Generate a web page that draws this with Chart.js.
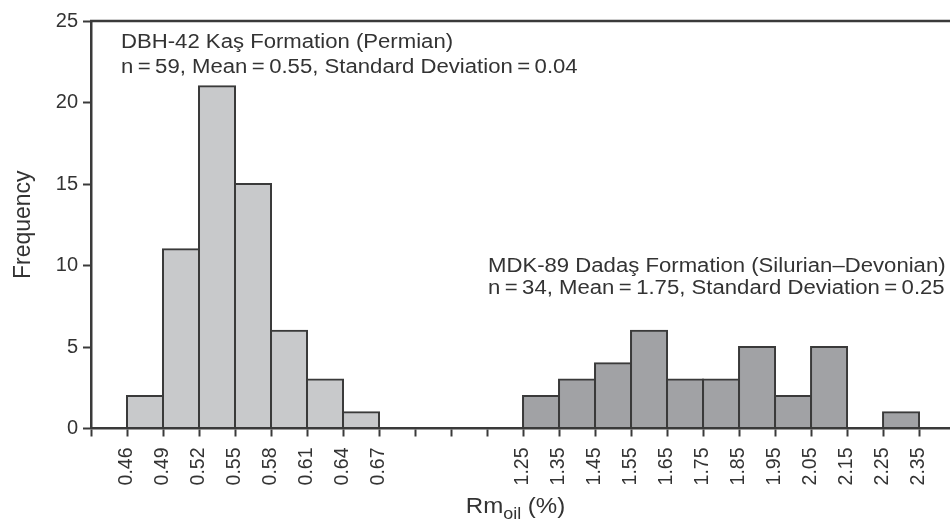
<!DOCTYPE html>
<html>
<head>
<meta charset="utf-8">
<script src="https://cdn.jsdelivr.net/npm/chart.js@4.4.1/dist/chart.umd.min.js"></script>
<style>
  html, body { margin: 0; padding: 0; background: #fff; }
  canvas { display: block; }
</style>
</head>
<body>
<canvas id="rm-histogram" width="950" height="520"></canvas>
<script>
// x axis: one slot per bin, blanks where the axis is broken
const tickLabels = ['', '0.46', '0.49', '0.52', '0.55', '0.58', '0.61', '0.64', '0.67', '', '', '',
  '1.25', '1.35', '1.45', '1.55', '1.65', '1.75', '1.85', '1.95', '2.05', '2.15', '2.25', '2.35'];

// DBH-42 Kaş Formation, bins start at these edges
const kasBins = ['0.46', '0.49', '0.52', '0.55', '0.58', '0.61', '0.64'];
const kasCounts = [2, 11, 21, 15, 6, 3, 1];

// MDK-89 Dadaş Formation
const dadasBins = ['1.25', '1.35', '1.45', '1.55', '1.65', '1.75', '1.85', '1.95', '2.05', '2.15', '2.25'];
const dadasCounts = [2, 3, 4, 6, 3, 3, 5, 2, 5, 0, 1];

const yTicks = [0, 5, 10, 15, 20, 25];

const kasNote = ['DBH-42 Kaş Formation (Permian)', 'n\u2009=\u200959, Mean\u2009=\u20090.55, Standard Deviation\u2009=\u20090.04'];
const dadasNote = ['MDK-89 Dadaş Formation (Silurian–Devonian)', 'n\u2009=\u200934, Mean\u2009=\u20091.75, Standard Deviation\u2009=\u20090.25'];

const INK = '#3a3a3a';
const TEXT = '#333333';
const FONT = "'Liberation Sans', Arial, sans-serif";

function toPoints(bins, counts) {
  // bar sits in the middle of its slot, between two tick marks
  return bins.map((b, i) => ({ x: tickLabels.indexOf(b) + 0.5, y: counts[i] }));
}

function measure(ctx, text, size) {
  ctx.save();
  ctx.font = `${size}px ${FONT}`;
  const w = ctx.measureText(text).width;
  ctx.restore();
  return w;
}

// the source figure's lettering is a little wider than Liberation Sans
function drawWide(ctx, text, x, y, size, sx) {
  ctx.save();
  ctx.translate(x, y);
  ctx.scale(sx, 1);
  ctx.font = `${size}px ${FONT}`;
  ctx.fillText(text, 0, 0);
  ctx.restore();
}

const annotations = {
  id: 'annotations',
  afterDraw(chart) {
    const { ctx, chartArea } = chart;
    ctx.save();

    // top frame line
    ctx.strokeStyle = INK;
    ctx.lineWidth = 2.5;
    ctx.beginPath();
    ctx.moveTo(chartArea.left - 1, chartArea.top);
    ctx.lineTo(chartArea.right, chartArea.top);
    ctx.stroke();

    ctx.fillStyle = TEXT;
    ctx.textBaseline = 'alphabetic';
    ctx.textAlign = 'left';
    drawWide(ctx, kasNote[0], 121, 48, 19.5, 1.135);
    drawWide(ctx, kasNote[1], 121, 72.5, 19.5, 1.135);
    drawWide(ctx, dadasNote[0], 488, 272, 19.5, 1.135);
    drawWide(ctx, dadasNote[1], 488, 294, 19.5, 1.135);

    // x axis title with subscript
    const sx = 1.12;
    const wRm = measure(ctx, 'Rm', 21.5) * sx;
    const wOil = measure(ctx, 'oil', 16) * sx;
    const wPct = measure(ctx, ' (%)', 21.5) * sx;
    let x = (chartArea.left + chartArea.right) / 2 - (wRm + wOil + wPct) / 2 - 5;
    drawWide(ctx, 'Rm', x, 513, 21.5, sx);
    x += wRm;
    drawWide(ctx, 'oil', x, 519, 16, sx);
    x += wOil;
    drawWide(ctx, ' (%)', x, 513, 21.5, sx);

    ctx.restore();
  }
};

const barStyle = {
  borderColor: INK,
  borderWidth: 2,
  borderSkipped: false,
  inflateAmount: 1,
  grouped: false,
  categoryPercentage: 1,
  barPercentage: 1
};

new Chart(document.getElementById('rm-histogram'), {
  type: 'bar',
  data: {
    datasets: [
      { label: 'DBH-42 Kaş', data: toPoints(kasBins, kasCounts), backgroundColor: '#c8c9cb', ...barStyle },
      { label: 'MDK-89 Dadaş', data: toPoints(dadasBins, dadasCounts), backgroundColor: '#a1a2a5', ...barStyle }
    ]
  },
  options: {
    responsive: false,
    animation: false,
    devicePixelRatio: 1,
    layout: { padding: { top: 21, right: 0, bottom: 0, left: 0 } },
    plugins: { legend: { display: false }, tooltip: { enabled: false } },
    scales: {
      x: {
        type: 'linear',
        min: 0,
        max: 23.86,
        offset: false,
        grid: { offset: false, drawOnChartArea: false, drawTicks: true, tickLength: 8, tickWidth: 2, tickColor: INK },
        border: { display: true, color: INK, width: 2.5 },
        ticks: {
          stepSize: 1,
          autoSkip: false,
          includeBounds: false,
          minRotation: 90,
          maxRotation: 90,
          padding: 11,
          color: TEXT,
          font: { family: FONT, size: 19.5 },
          callback: (v) => tickLabels[v] ?? ''
        },
        afterFit: (s) => {
          s.height = 91.5;
          // keep the plot running to the right edge like the figure
          s.paddingLeft = 0;
          s.paddingRight = 0;
        }
      },
      y: {
        min: yTicks[0],
        max: yTicks[yTicks.length - 1],
        afterBuildTicks: (s) => { s.ticks = yTicks.map((v) => ({ value: v })); },
        grid: { drawOnChartArea: false, drawTicks: true, tickLength: 8, tickWidth: 2, tickColor: INK },
        border: { display: true, color: INK, width: 2.5 },
        ticks: { padding: 5, color: TEXT, font: { family: FONT, size: 20 } },
        title: {
          display: true,
          text: 'Frequency',
          color: TEXT,
          font: { family: FONT, size: 23 },
          padding: { top: 10, bottom: 0 }
        },
        afterFit: (s) => {
          s.width = 91;
          s.paddingTop = 0;
          s.paddingBottom = 0;
        }
      }
    }
  },
  plugins: [annotations]
});
</script>
</body>
</html>
